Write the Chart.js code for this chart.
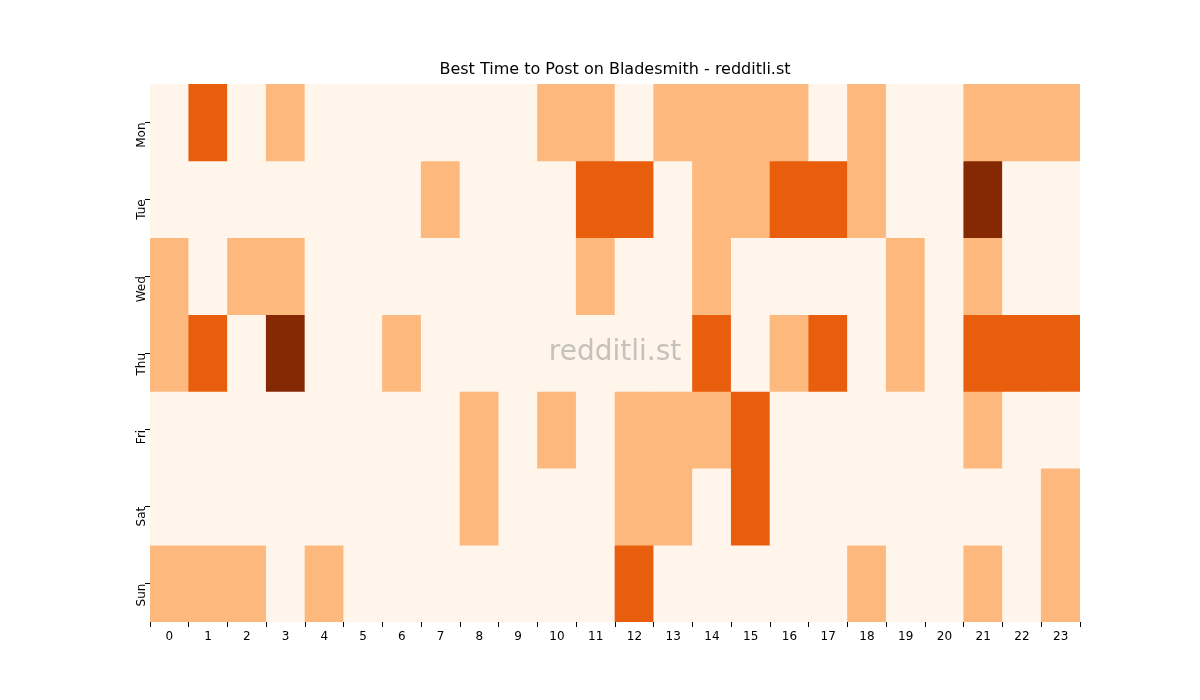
<!DOCTYPE html>
<html>
<head>
<meta charset="utf-8">
<script src="https://cdn.jsdelivr.net/npm/chart.js@4"></script>
<style>
  body { margin: 0; background: #fff; }
  #wrap { width: 1200px; height: 700px; }
</style>
</head>
<body>
<div id="wrap"><canvas id="heat" width="1200" height="700"></canvas></div>
<script>
// data (0 = lowest .. 3 = highest)
const hours = Array.from({ length: 24 }, (_, i) => String(i));
const days = ['Mon', 'Tue', 'Wed', 'Thu', 'Fri', 'Sat', 'Sun'];
const mon = [0,2,0,1,0,0,0,0,0,0,1,1,0,1,1,1,1,0,1,0,0,1,1,1];
const tue = [0,0,0,0,0,0,0,1,0,0,0,2,2,0,1,1,2,2,1,0,0,3,0,0];
const wed = [1,0,1,1,0,0,0,0,0,0,0,1,0,0,1,0,0,0,0,1,0,1,0,0];
const thu = [1,2,0,3,0,0,1,0,0,0,0,0,0,0,2,0,1,2,0,1,0,2,2,2];
const fri = [0,0,0,0,0,0,0,0,1,0,1,0,1,1,1,2,0,0,0,0,0,1,0,0];
const sat = [0,0,0,0,0,0,0,0,1,0,0,0,1,1,0,2,0,0,0,0,0,0,0,1];
const sun = [1,1,1,0,1,0,0,0,0,0,0,0,2,0,0,0,0,0,1,0,0,1,0,1];
const rows = [mon, tue, wed, thu, fri, sat, sun];
const palette = ['#fff5eb', '#fdb97d', '#e95e0d', '#842904'];

const datasets = rows.map((row, d) => ({
  label: days[d],
  data: row.map(() => [d, d + 1]),
  backgroundColor: row.map(v => palette[v]),
  borderWidth: 0,
  grouped: false,
  barPercentage: 1,
  categoryPercentage: 1
}));

/** title + watermark */
const decor = {
  id: 'decor',
  afterDraw(chart) {
    const { ctx, chartArea: a } = chart;
    ctx.save();
    ctx.textAlign = 'center';
    ctx.textBaseline = 'middle';
    ctx.fillStyle = '#000';
    ctx.font = '16px "DejaVu Sans"';
    ctx.fillText('Best Time to Post on Bladesmith - redditli.st', (a.left + a.right) / 2, 70);
    ctx.fillStyle = 'rgba(150,150,150,0.55)';
    ctx.font = '28px "DejaVu Sans"';
    ctx.fillText('redditli.st', (a.left + a.right) / 2, (a.top + a.bottom) / 2);
    ctx.restore();
  }
};

new Chart(document.getElementById('heat'), {
  type: 'bar',
  data: { labels: hours, datasets },
  options: {
    responsive: false,
    animation: false,
    layout: { padding: { left: 100, right: 120, top: 84, bottom: 48 } },
    plugins: { legend: { display: false }, tooltip: { enabled: false } },
    scales: {
      x: {
        offset: true,
        grid: { display: true, drawOnChartArea: false, tickLength: 5, color: '#000' },
        border: { display: false },
        ticks: { color: '#000', font: { family: 'DejaVu Sans', size: 12 }, maxRotation: 0 },
        afterFit: s => { s.height = 30; }
      },
      y: {
        min: 0, max: 7, reverse: true,
        afterBuildTicks: s => { s.ticks = days.map((_, i) => ({ value: i + 0.5 })); },
        grid: { display: true, drawOnChartArea: false, tickLength: 5, color: '#000' },
        border: { display: false },
        ticks: {
          color: '#000', font: { family: 'DejaVu Sans', size: 12 },
          minRotation: 90, maxRotation: 90,
          callback: v => days[Math.floor(v)]
        },
        afterFit: s => { s.width = 50; }
      }
    }
  },
  plugins: [decor]
});
</script>
</body>
</html>
